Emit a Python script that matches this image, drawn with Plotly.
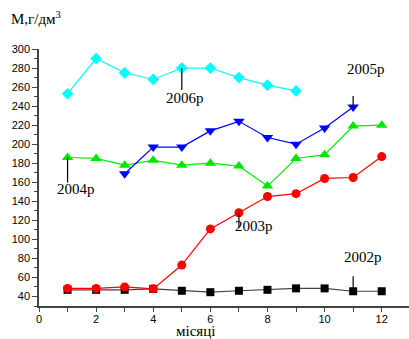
import plotly.graph_objects as go

months_2002 = [1, 2, 3, 4, 5, 6, 7, 8, 9, 10, 11, 12]
vals_2002 = [47, 47, 47, 48, 46, 44.5, 46, 47, 48.5, 48.5, 45.5, 45.5]
months_2003 = [1, 2, 3, 4, 5, 6, 7, 8, 9, 10, 11, 12]
vals_2003 = [48.5, 48.5, 50, 48, 73, 111, 128, 145, 148, 164, 165, 187]
months_2004 = [1, 2, 3, 4, 5, 6, 7, 8, 9, 10, 11, 12]
vals_2004 = [186, 185, 178, 183, 178, 180, 177, 156, 185, 189, 219, 220]
months_2005 = [3, 4, 5, 6, 7, 8, 9, 10, 11]
vals_2005 = [169, 197, 197, 214, 224, 207, 200, 217, 239]
months_2006 = [1, 2, 3, 4, 5, 6, 7, 8, 9]
vals_2006 = [253, 290, 275, 268, 280, 280, 270, 262, 256]

series = [
    ("2002р", months_2002, vals_2002, "#000000", "#444444", "square", 8),
    ("2003р", months_2003, vals_2003, "#ff0000", "#ff0000", "circle", 9),
    ("2004р", months_2004, vals_2004, "#00e600", "#00ee00", "triangle-up", 10),
    ("2005р", months_2005, vals_2005, "#0000ff", "#0000ff", "triangle-down", 10),
    ("2006р", months_2006, vals_2006, "#00ffff", "#00ffff", "diamond", 9),
]

fig = go.Figure()
for name, xs, ys, mc, lc, sym, sz in series:
    fig.add_trace(go.Scatter(x=xs, y=ys, mode="lines+markers", name=name,
                             line=dict(color=lc, width=1.2),
                             marker=dict(color=mc, symbol=sym, size=sz),
                             showlegend=False, cliponaxis=False))

# label callouts: (series index, point index, line length px (+down), text xshift, yshift)
callouts = [
    (0, 10, -15, 10, 34),
    (1, 6, 15, 15, -13),
    (2, 0, 25, 8, -31),
    (3, 8, -11, 13, 38),
    (4, 4, 22, 3, -30),
]
tfont = dict(family="Times New Roman, Liberation Serif, serif", size=15, color="black")
for si, pi, ln, xs_, ys_ in callouts:
    name, xs, ys = series[si][0], series[si][1], series[si][2]
    fig.add_shape(type="line", xref="x", yref="y", x0=xs[pi], x1=xs[pi],
                  ysizemode="pixel", yanchor=ys[pi], y0=0, y1=-ln,
                  line=dict(color="black", width=1.2))
    fig.add_annotation(x=xs[pi], y=ys[pi], xref="x", yref="y", text=name,
                       showarrow=False, xshift=xs_, yshift=ys_, font=tfont)

fig.add_annotation(x=-0.08, y=1.12, xref="paper", yref="paper",
                   text="М,г/дм<sup>3</sup>", showarrow=False,
                   xanchor="left", yanchor="middle", font=tfont)
fig.add_annotation(x=0.424, y=-0.099, xref="paper", yref="paper",
                   text="місяці", showarrow=False,
                   xanchor="center", yanchor="middle", font=tfont)

axfont = dict(family="Liberation Sans, Arial", size=11, color="black")
fig.update_xaxes(range=[0, 12.955], tick0=0, dtick=2, ticks="outside",
                 ticklen=4, tickcolor="#444", showline=True, linecolor="#444",
                 linewidth=1.5, showgrid=False, zeroline=False, tickfont=axfont,
                 ticklabelstandoff=-2,
                 minor=dict(dtick=1, ticks="outside", ticklen=4, tickcolor="#444"))
fig.update_yaxes(range=[30, 300], tick0=0, dtick=20, ticks="outside",
                 ticklen=5, tickcolor="#444", showline=True, linecolor="#444",
                 linewidth=1.5, showgrid=False, zeroline=False, tickfont=axfont,
                 minor=dict(dtick=10, ticks="outside", ticklen=3, tickcolor="#444"))

fig.update_layout(width=409, height=339, margin=dict(l=39, r=0, t=49, b=33),
                  plot_bgcolor="white", paper_bgcolor="white")
fig.write_html("out.html", config={"displayModeBar": False},
               post_script="document.body.style.margin='0';document.body.style.padding='0';")
